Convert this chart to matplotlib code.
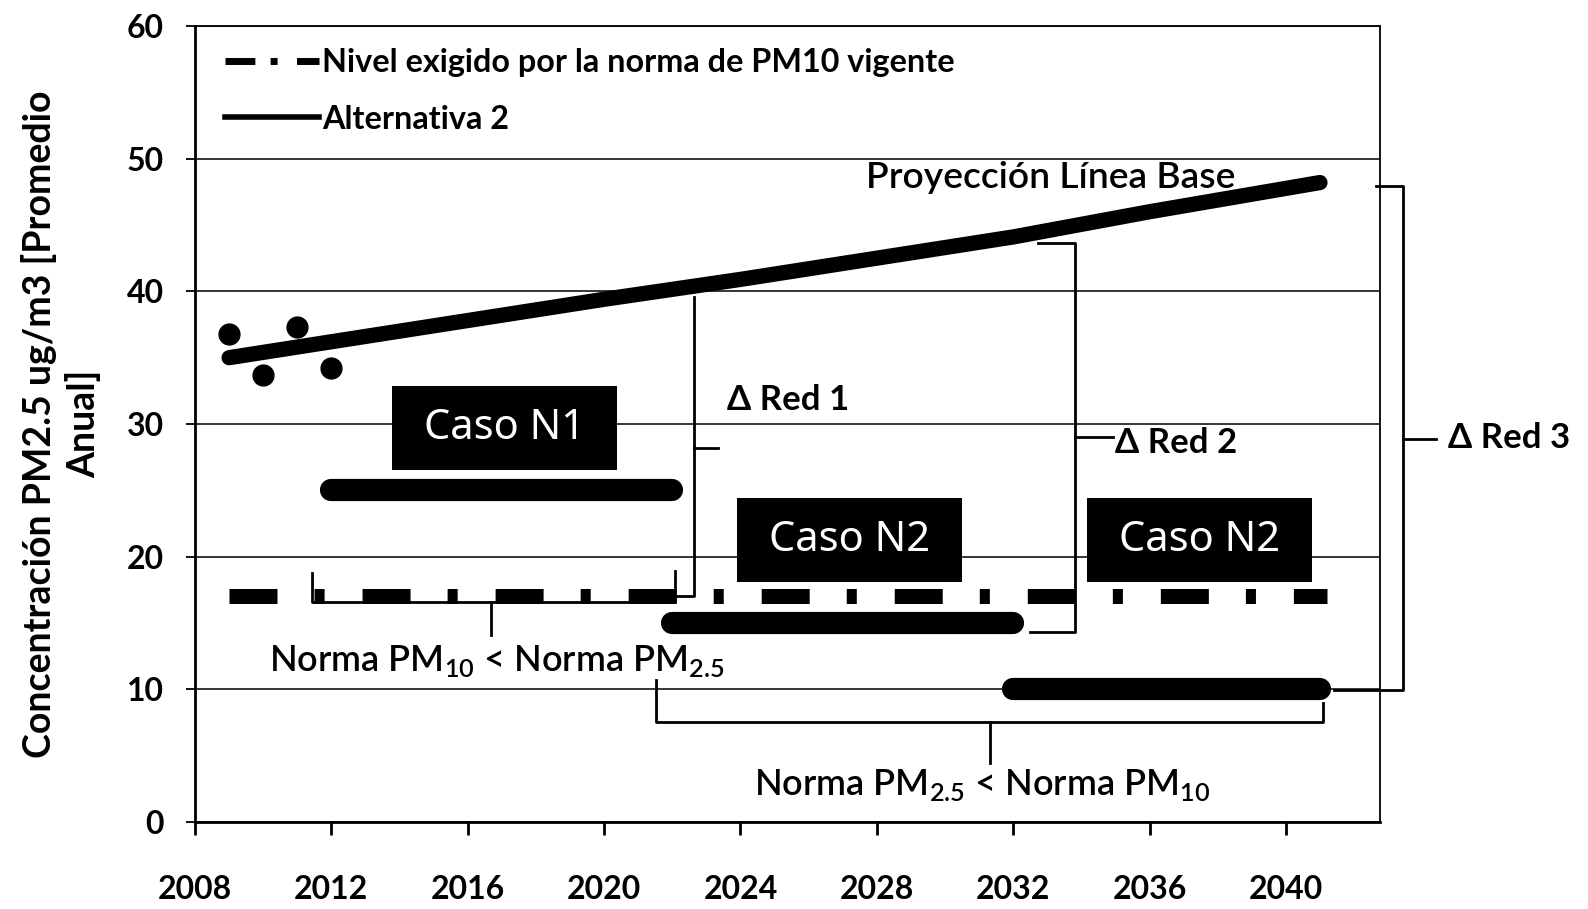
import numpy as np
import matplotlib.pyplot as plt
from matplotlib.lines import Line2D
from matplotlib.patches import Rectangle

plt.rcParams['font.family'] = ['Lato', 'DejaVu Sans']
plt.rcParams['mathtext.fontset'] = 'custom'
plt.rcParams['mathtext.rm'] = 'Lato'

# measured annual averages
obs_years = [2009, 2010, 2011, 2012]
obs_values = [36.8, 33.7, 37.3, 34.2]

# baseline projection
base_years = [2009, 2012, 2016, 2020, 2024, 2028, 2032, 2036, 2041]
base_values = [35.0, 36.2, 37.8, 39.4, 40.9, 42.5, 44.1, 46.0, 48.2]

# PM10 standard level expressed as PM2.5
norm_years = [2009, 2041.2]
norm_values = [17.0, 17.0]

# reduction cases
case_labels = ['Caso N1', 'Caso N2', 'Caso N2']
case_start = [2012, 2022, 2032]
case_end = [2022, 2032, 2041]
case_level = [25, 15, 10]

x_ticks = [2008, 2012, 2016, 2020, 2024, 2028, 2032, 2036, 2040]
y_ticks = [0, 10, 20, 30, 40, 50, 60]

# label boxes (lower-left corner, data units)
box_xy = [(2013.78, 26.55), (2023.9, 18.1), (2034.17, 18.1)]
box_w, box_h = 6.6, 6.33

fig = plt.figure(figsize=(15.88, 9.09), dpi=100)
ax = fig.add_axes([195/1588, 87/909, 1185/1588, 796/909])

ax.set_xlim(2008, 2042.76)
ax.set_ylim(0, 60)
ax.set_xticks(x_ticks)
ax.set_yticks(y_ticks)
ax.yaxis.grid(True, color='black', lw=1.1)
ax.set_axisbelow(True)
for s in ax.spines.values():
    s.set_linewidth(1.3)
ax.spines['left'].set_linewidth(2)
ax.spines['bottom'].set_linewidth(2)
ax.tick_params(axis='x', direction='out', length=9, width=2, pad=29,
               labelsize=23)
ax.tick_params(axis='y', direction='out', length=6.5, width=1.3, pad=16,
               labelsize=23)
for lab in ax.get_xticklabels() + ax.get_yticklabels():
    lab.set_fontweight('bold')

# norm line, dash-dot
ax.plot(norm_years, norm_values, color='black', lw=10.8,
        dashes=(3.2, 2.47, 0.67, 2.53), dash_capstyle='butt', zorder=3)

# baseline and observations
ax.plot(base_years, base_values, color='black', lw=11,
        solid_capstyle='round', zorder=4)
ax.plot(obs_years, obs_values, 'o', color='black', ms=15, zorder=4)

# reduction cases
for x0, x1, y in zip(case_start, case_end, case_level):
    ax.plot([x0, x1], [y, y], color='black', lw=16,
            solid_capstyle='round', zorder=4)

for (bx, by), lab in zip(box_xy, case_labels):
    ax.add_patch(Rectangle((bx, by), box_w, box_h, facecolor='black',
                           edgecolor='none', zorder=5))
    ax.text(bx + box_w/2, by + box_h/2, lab, color='white', fontsize=30,
            family=['Noto Sans', 'DejaVu Sans'],
            ha='center', va='center', zorder=6)

blw = 2.0

def vbrace(x, y0, y1, hook0, hook1, ym, tick):
    # vertical bracket: hooks to the left at both ends, tick to the right
    ax.plot([hook0, x, x, hook1], [y0, y0, y1, y1], color='black',
            lw=blw, clip_on=False, zorder=3)
    ax.plot([x, tick], [ym, ym], color='black', lw=blw, clip_on=False,
            zorder=3)

def hbrace(x0, x1, y, yl, yr, xm, ym):
    # horizontal bracket under a span, tick pointing down
    ax.plot([x0, x0, x1, x1], [yl, y, y, yr], color='black', lw=blw,
            clip_on=False, zorder=3)
    ax.plot([xm, xm], [y, ym], color='black', lw=blw, clip_on=False,
            zorder=3)

vbrace(2022.65, 39.6, 17.0, 2022.65, 2022.07, 28.2, 2023.34)
vbrace(2033.81, 43.67, 14.33, 2032.73, 2032.49, 29.03, 2034.93)
vbrace(2043.44, 47.91, 9.95, 2042.64, 2041.41, 28.9, 2044.4)

hbrace(2011.43, 2022.07, 16.6, 18.8, 18.9, 2016.67, 14.1)
hbrace(2021.51, 2041.09, 7.56, 10.7, 8.97, 2031.33, 4.45)

tkw = dict(fontsize=25, fontweight='bold', va='center', ha='left',
           clip_on=False)
ax.text(2023.6, 31.8, '\u0394 Red 1', **tkw)
ax.text(2034.99, 28.6, '\u0394 Red 2', **tkw)
ax.text(2044.76, 28.96, '\u0394 Red 3', **tkw)

ax.text(2033.1, 48.57, 'Proyección Línea Base', fontsize=26.8,
        fontweight='semibold', ha='center', va='center')
ax.text(2016.86, 12.14, r'Norma PM$_\mathregular{10}$ < Norma PM$_\mathregular{2.5}$',
        fontsize=26, fontweight='semibold', ha='center', va='center')
ax.text(2031.09, 2.79, r'Norma PM$_\mathregular{2.5}$ < Norma PM$_\mathregular{10}$',
        fontsize=26, fontweight='semibold', ha='center', va='center')

handles = [
    Line2D([], [], color='black', lw=5, dashes=(4.3, 2.2, 1.0, 2.8)),
    Line2D([], [], color='black', lw=4),
]
ax.legend(handles, ['Nivel exigido por la norma de PM10 vigente',
                    'Alternativa 2'],
          loc='upper left', bbox_to_anchor=(0.0253, 0.972), frameon=False,
          borderpad=0, borderaxespad=0, handlelength=2.9, handletextpad=0.1,
          labelspacing=0.85, prop={'weight': 'bold', 'size': 23.3})

fig.text(61/1588, 1 - 424/909, 'Concentración PM2.5 ug/m3 [Promedio\nAnual]',
         rotation=90, ha='center', va='center', multialignment='center',
         fontsize=27, fontweight='bold', linespacing=1.25)

fig.savefig('out.png', dpi=100)
